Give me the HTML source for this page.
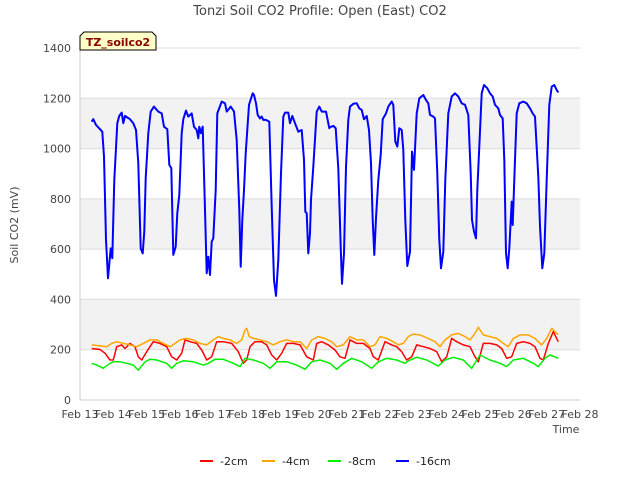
<!DOCTYPE html>
<html><head><meta charset="utf-8"><style>
body{margin:0;background:#fff;font-family:"Liberation Sans",sans-serif}
</style></head><body>
<svg id="chart" width="640" height="480" xmlns="http://www.w3.org/2000/svg" font-family="DejaVu Sans, Liberation Sans, sans-serif">
<text x="320" y="15" text-anchor="middle" font-size="13" fill="#444">Tonzi Soil CO2 Profile: Open (East) CO2</text>
<text transform="translate(18,225) rotate(-90)" text-anchor="middle" font-size="11" fill="#444">Soil CO2 (mV)</text>
<text x="566" y="433" text-anchor="middle" font-size="11" fill="#444">Time</text>
<g id="bands"></g><g id="grid"></g><g id="axes"></g><g id="series"></g>
<g>
<path d="M80,50 L80,36 L84,32 L152,32 L156,36 L156,50 Z" fill="#ffffc8" stroke="#000" stroke-width="1"/>
<text x="118" y="46" text-anchor="middle" font-size="11" font-weight="bold" fill="#8b0000">TZ_soilco2</text>
</g>
<g id="legend"></g>
</svg>
<script>
const yTicks=[0,200,400,600,800,1000,1200,1400];
const xTickLabels=["Feb 13","Feb 14","Feb 15","Feb 16","Feb 17","Feb 18","Feb 19","Feb 20","Feb 21","Feb 22","Feb 23","Feb 24","Feb 25","Feb 26","Feb 27","Feb 28"];
const seriesNames=["-2cm","-4cm","-8cm","-16cm"];
const blueT=[0.35,0.40,0.48,0.60,0.67,0.72,0.78,0.84,0.92,0.97,1.03,1.12,1.18,1.25,1.30,1.35,1.50,1.60,1.68,1.75,1.82,1.88,1.93,1.97,2.05,2.12,2.22,2.35,2.45,2.52,2.62,2.68,2.74,2.80,2.87,2.92,2.98,3.05,3.10,3.18,3.25,3.35,3.42,3.50,3.55,3.58,3.63,3.68,3.75,3.80,3.85,3.90,3.95,4.00,4.07,4.12,4.25,4.35,4.40,4.52,4.62,4.70,4.78,4.82,4.87,4.92,4.97,5.07,5.18,5.22,5.28,5.33,5.40,5.45,5.50,5.58,5.68,5.75,5.82,5.88,5.95,6.03,6.10,6.15,6.25,6.30,6.37,6.45,6.55,6.65,6.72,6.76,6.80,6.85,6.90,6.93,7.00,7.10,7.18,7.25,7.38,7.48,7.50,7.60,7.67,7.75,7.82,7.86,7.92,7.98,8.05,8.10,8.20,8.30,8.38,8.45,8.52,8.60,8.67,8.73,8.78,8.83,8.88,8.95,9.02,9.08,9.18,9.25,9.35,9.40,9.46,9.52,9.58,9.65,9.70,9.76,9.82,9.90,9.96,10.02,10.10,10.18,10.30,10.38,10.45,10.50,10.60,10.65,10.72,10.78,10.83,10.90,10.96,11.05,11.15,11.25,11.35,11.45,11.55,11.65,11.72,11.76,11.82,11.88,11.92,11.98,12.05,12.12,12.22,12.30,12.38,12.45,12.55,12.60,12.68,12.73,12.78,12.83,12.88,12.95,12.98,13.05,13.10,13.18,13.30,13.40,13.50,13.58,13.65,13.75,13.80,13.87,13.93,14.00,14.08,14.15,14.23,14.30,14.35];
const blueV=[1107,1117,1094,1077,1067,968,637,484,603,564,875,1101,1130,1143,1101,1130,1117,1101,1074,942,603,583,670,882,1061,1147,1167,1147,1140,1087,1077,935,922,577,610,743,816,1061,1117,1151,1127,1140,1087,1074,1041,1087,1061,1087,756,504,570,497,630,643,835,1140,1187,1180,1147,1167,1147,1034,756,530,716,835,981,1174,1220,1213,1180,1134,1120,1127,1114,1114,1107,769,477,414,557,902,1127,1143,1143,1101,1130,1101,1067,1074,955,749,743,583,663,796,928,1147,1167,1147,1147,1081,1085,1090,1081,922,610,462,583,928,1114,1167,1178,1180,1160,1154,1117,1130,1074,942,716,577,723,875,975,1117,1140,1167,1187,1174,1028,1008,1081,1074,995,716,533,590,988,915,1140,1200,1213,1193,1180,1134,1127,1120,902,637,524,590,875,1140,1207,1220,1207,1180,1174,1134,902,716,670,643,835,1008,1220,1253,1240,1220,1207,1174,1160,1134,1120,955,583,524,603,789,696,955,1140,1180,1187,1180,1160,1140,1127,888,690,524,583,875,1174,1246,1253,1233,1223];
const redT=[0.35,0.60,0.75,0.90,1.00,1.10,1.25,1.35,1.50,1.65,1.75,1.85,2.00,2.20,2.40,2.60,2.75,2.90,3.05,3.15,3.30,3.50,3.65,3.80,3.95,4.10,4.30,4.55,4.75,4.90,5.00,5.10,5.25,5.45,5.60,5.75,5.90,6.05,6.20,6.40,6.60,6.80,7.00,7.10,7.25,7.45,7.65,7.80,7.95,8.10,8.30,8.50,8.70,8.80,8.95,9.15,9.35,9.50,9.65,9.80,9.95,10.10,10.30,10.50,10.70,10.85,11.00,11.15,11.30,11.50,11.70,11.85,11.95,12.10,12.30,12.50,12.65,12.80,12.95,13.10,13.30,13.50,13.65,13.80,13.90,14.05,14.20,14.35];
const redV=[205,201,186,159,159,212,219,205,225,212,172,159,192,232,225,212,172,159,186,239,232,225,199,159,172,232,232,225,192,146,159,212,232,232,219,179,159,186,225,225,219,172,159,225,232,219,199,172,166,239,225,225,205,172,159,232,219,212,192,159,172,219,212,205,192,152,172,245,232,219,212,172,152,225,225,219,205,166,172,225,232,225,212,166,159,225,272,232];
const orangeT=[0.35,0.60,0.80,0.95,1.10,1.30,1.50,1.70,1.90,2.10,2.30,2.50,2.70,2.85,3.00,3.20,3.40,3.60,3.80,4.00,4.15,4.30,4.50,4.70,4.85,4.95,5.00,5.08,5.20,5.40,5.60,5.80,6.00,6.20,6.40,6.60,6.80,6.95,7.15,7.35,7.55,7.70,7.90,8.10,8.30,8.50,8.70,8.85,9.00,9.20,9.40,9.55,9.70,9.85,10.00,10.20,10.45,10.65,10.80,10.95,11.15,11.35,11.55,11.70,11.85,11.95,12.10,12.30,12.50,12.70,12.85,13.00,13.20,13.45,13.65,13.85,14.00,14.15,14.35];
const orangeV=[219,215,212,225,232,225,219,212,225,239,239,225,212,225,239,245,239,225,219,239,252,245,239,225,239,278,285,252,245,239,232,219,232,239,232,232,205,239,252,245,232,212,219,252,239,239,212,219,252,245,232,219,225,252,262,259,245,232,212,239,259,265,252,239,265,289,259,252,245,225,212,245,259,259,245,219,245,285,259];
const greenT=[0.35,0.50,0.70,0.90,1.00,1.20,1.40,1.60,1.75,1.95,2.10,2.30,2.60,2.75,2.90,3.10,3.40,3.70,3.85,4.05,4.30,4.60,4.80,4.95,5.20,5.50,5.70,5.90,6.20,6.50,6.75,6.95,7.20,7.50,7.70,7.90,8.15,8.45,8.75,8.95,9.20,9.50,9.75,9.90,10.10,10.40,10.75,10.95,11.20,11.50,11.75,12.00,12.30,12.60,12.80,13.00,13.30,13.60,13.75,13.95,14.10,14.35];
const greenV=[146,139,126,146,152,152,146,139,119,152,162,159,146,126,146,156,152,139,146,162,162,146,133,166,159,146,126,152,152,139,122,152,159,146,122,146,166,152,126,152,166,159,146,159,170,159,135,159,170,159,126,179,159,146,133,159,166,146,133,166,179,166];

const X0=80,X1=580,Y0=400,Y1=48;
const xs=t=>X0+(X1-X0)*t/15;
const ys=v=>Y0-(Y0-Y1)*v/1400;
const NS="http://www.w3.org/2000/svg";
function mk(tag,attrs,parent){const e=document.createElementNS(NS,tag);for(const k in attrs)e.setAttribute(k,attrs[k]);parent.appendChild(e);return e;}
const bands=document.getElementById('bands'),grid=document.getElementById('grid'),axes=document.getElementById('axes'),ser=document.getElementById('series'),leg=document.getElementById('legend');
for(let i=0;i<yTicks.length-1;i++){
  if(i%2===1){const b=mk('rect',{x:X0,y:ys(yTicks[i+1]),width:X1-X0,height:ys(yTicks[i])-ys(yTicks[i+1]),fill:'#f2f2f2'},bands);
  
  }
}
yTicks.forEach(v=>{
  const l=mk('line',{x1:X0,x2:X1,y1:ys(v),y2:ys(v),stroke:'#dcdcdc','stroke-width':1},grid);
  
  
  const t=mk('text',{x:X0-9,y:ys(v)+4,'text-anchor':'end','font-size':11,fill:'#444'},axes);
  t.textContent=v;
  
  
});
const ax=mk('line',{x1:X0,x2:X0,y1:Y1,y2:Y0,stroke:'#ccc'},axes);


const bx=mk('line',{x1:X0,x2:X1,y1:Y0,y2:Y0,stroke:'#ccc'},axes);


xTickLabels.forEach((s,i)=>{
  const t=mk('text',{x:xs(i),y:Y0+18,'text-anchor':'middle','font-size':11,fill:'#444'},axes);
  t.textContent=s;
  
  
});
const colors=['#ff0000','#ffa500','#00ee00','#0000ff'];
const data=[[redT,redV],[orangeT,orangeV],[greenT,greenV],[blueT,blueV]];
data.forEach((d,k)=>{
  const pts=d[0].map((t,i)=>xs(t).toFixed(1)+','+ys(d[1][i]).toFixed(1)).join(' ');
  const p=mk('polyline',{points:pts,fill:'none',stroke:colors[k],'stroke-width':k===3?2:1.5,'stroke-linejoin':'round'},ser);
   
  
});
const legX=[200,262,328,396];
seriesNames.forEach((s,k)=>{
  const g=mk('g',{},leg);
  
  
  mk('line',{x1:legX[k],x2:legX[k]+13,y1:461,y2:461,stroke:colors[k],'stroke-width':2},g);
  const t=mk('text',{x:legX[k]+20,y:465,'font-size':11,fill:'#222'},g);
  t.textContent=s;
});
</script>
</body></html>
